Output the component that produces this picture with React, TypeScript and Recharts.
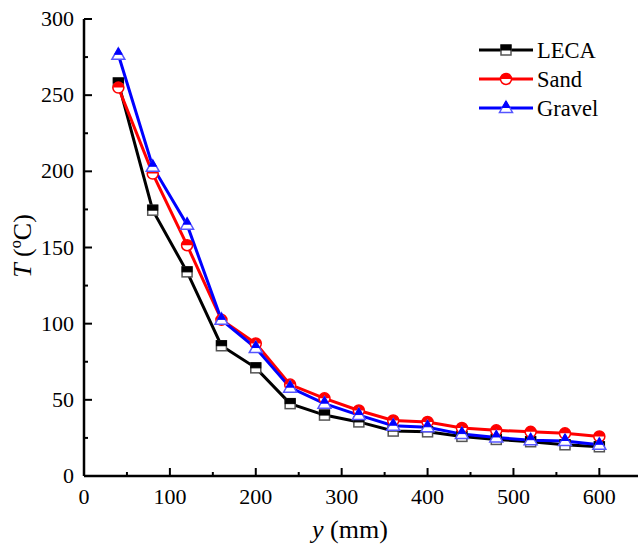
import { LineChart, Line, XAxis, YAxis } from 'recharts';

const positions = [40, 80, 120, 160, 200, 240, 280, 320, 360, 400, 440, 480, 520, 560, 600];
const leca = [258, 174.5, 134, 85.5, 71, 47.5, 40, 35.5, 29.5, 29, 26, 24, 22.5, 20.5, 19.2];
const sand = [255, 198.5, 151.5, 102.5, 87, 60, 51, 43, 36.5, 35.5, 31.5, 30, 29, 28, 26];
const gravel = [276.5, 203, 165, 102.5, 84, 58, 47.5, 40, 33, 32, 27.5, 25.3, 23.5, 23, 20.5];

const xTicks = [0, 50, 100, 150, 200, 250, 300, 350, 400, 450, 500, 550, 600];
const yTicks = [0, 25, 50, 75, 100, 125, 150, 175, 200, 225, 250, 275, 300];

const data = positions.map((y, i) => ({ y, leca: leca[i], sand: sand[i], gravel: gravel[i] }));

const FONT = 'Times New Roman';

const Square = ({ cx, cy }: any) => (
  <g>
    <rect x={cx - 5} y={cy - 5} width={10} height={10} fill="#fff" stroke="#555" strokeWidth={1.5} />
    <rect x={cx - 5} y={cy - 5} width={10} height={5} fill="#000" stroke="#000" strokeWidth={1} />
  </g>
);

const Circle = ({ cx, cy }: any) => (
  <g>
    <circle cx={cx} cy={cy} r={5.5} fill="#fff" stroke="#f00" strokeWidth={1.5} />
    <path d={`M${cx - 5.5},${cy} A5.5,5.5 0 0 1 ${cx + 5.5},${cy} Z`} fill="#f00" />
  </g>
);

const Triangle = ({ cx, cy }: any) => (
  <g>
    <path d={`M${cx},${cy - 7} L${cx + 6.5},${cy + 4.5} L${cx - 6.5},${cy + 4.5} Z`} fill="#fff" stroke="#55f" strokeWidth={1.5} />
    <path d={`M${cx},${cy - 7} L${cx + 3.8},${cy - 0.5} L${cx - 3.8},${cy - 0.5} Z`} fill="#00f" stroke="#00f" strokeWidth={1} />
  </g>
);

// ticks point inward, minor ticks have no label
const XTick = ({ x, y, payload }: any) => {
  const major = payload.value % 100 === 0;
  return (
    <g>
      <line x1={x} x2={x} y1={y} y2={y - (major ? 8 : 4)} stroke="#000" strokeWidth={2} />
      {major && (
        <text x={x} y={y + 28} textAnchor="middle" fontFamily={FONT} fontSize={22} fill="#000">
          {payload.value}
        </text>
      )}
    </g>
  );
};

const YTick = ({ x, y, payload }: any) => {
  const major = payload.value % 50 === 0;
  return (
    <g>
      <line x1={x} x2={x + (major ? 8 : 4)} y1={y} y2={y} stroke="#000" strokeWidth={2} />
      {major && (
        <text x={x - 10} y={y + 7} textAnchor="end" fontFamily={FONT} fontSize={22} fill="#000">
          {payload.value}
        </text>
      )}
    </g>
  );
};

const legendItems = [
  { name: 'LECA', color: '#000', Marker: Square },
  { name: 'Sand', color: '#f00', Marker: Circle },
  { name: 'Gravel', color: '#00f', Marker: Triangle },
];

const LegendBox = () => (
  <svg width={150} height={90} style={{ position: 'absolute', left: 475, top: 37 }}>
    {legendItems.map((item, i) => {
      const cy = 13 + i * 29;
      return (
        <g key={item.name}>
          <line x1={4} x2={58} y1={cy} y2={cy} stroke={item.color} strokeWidth={3} />
          <item.Marker cx={31} cy={cy} />
          <text x={62} y={cy + 8} fontFamily={FONT} fontSize={22.5} fill="#000">
            {item.name}
          </text>
        </g>
      );
    })}
  </svg>
);

export default function App() {
  return (
    <div style={{ position: 'absolute', left: 0, top: 0, width: 638, height: 549, background: '#fff' }}>
      <LineChart width={638} height={549} data={data} margin={{ top: 19, right: 0, bottom: 0, left: 0 }}>
        <XAxis
          dataKey="y"
          type="number"
          domain={[0, 645]}
          ticks={xTicks}
          interval={0}
          height={73}
          tickSize={0}
          tickMargin={0}
          tickLine={false}
          tick={<XTick />}
          axisLine={{ stroke: '#000', strokeWidth: 2.5 }}
          label={() => (
            <text x={312} y={538} fontFamily={FONT} fontSize={26} fill="#000">
              <tspan fontStyle="italic">y</tspan>
              <tspan> (mm)</tspan>
            </text>
          )}
        />
        <YAxis
          type="number"
          domain={[0, 300]}
          ticks={yTicks}
          interval={0}
          width={84}
          tickSize={0}
          tickMargin={0}
          tickLine={false}
          tick={<YTick />}
          axisLine={{ stroke: '#000', strokeWidth: 2.5 }}
          label={() => (
            <text x={31} y={246} transform="rotate(-90 31 246)" textAnchor="middle" fontFamily={FONT} fontSize={26} fill="#000">
              <tspan fontStyle="italic">T</tspan>
              <tspan> (ºC)</tspan>
            </text>
          )}
        />
        <Line dataKey="leca" name="LECA" stroke="#000" strokeWidth={3} dot={<Square />} isAnimationActive={false} />
        <Line dataKey="sand" name="Sand" stroke="#f00" strokeWidth={3} dot={<Circle />} isAnimationActive={false} />
        <Line dataKey="gravel" name="Gravel" stroke="#00f" strokeWidth={3} dot={<Triangle />} isAnimationActive={false} />
      </LineChart>
      <LegendBox />
    </div>
  );
}
